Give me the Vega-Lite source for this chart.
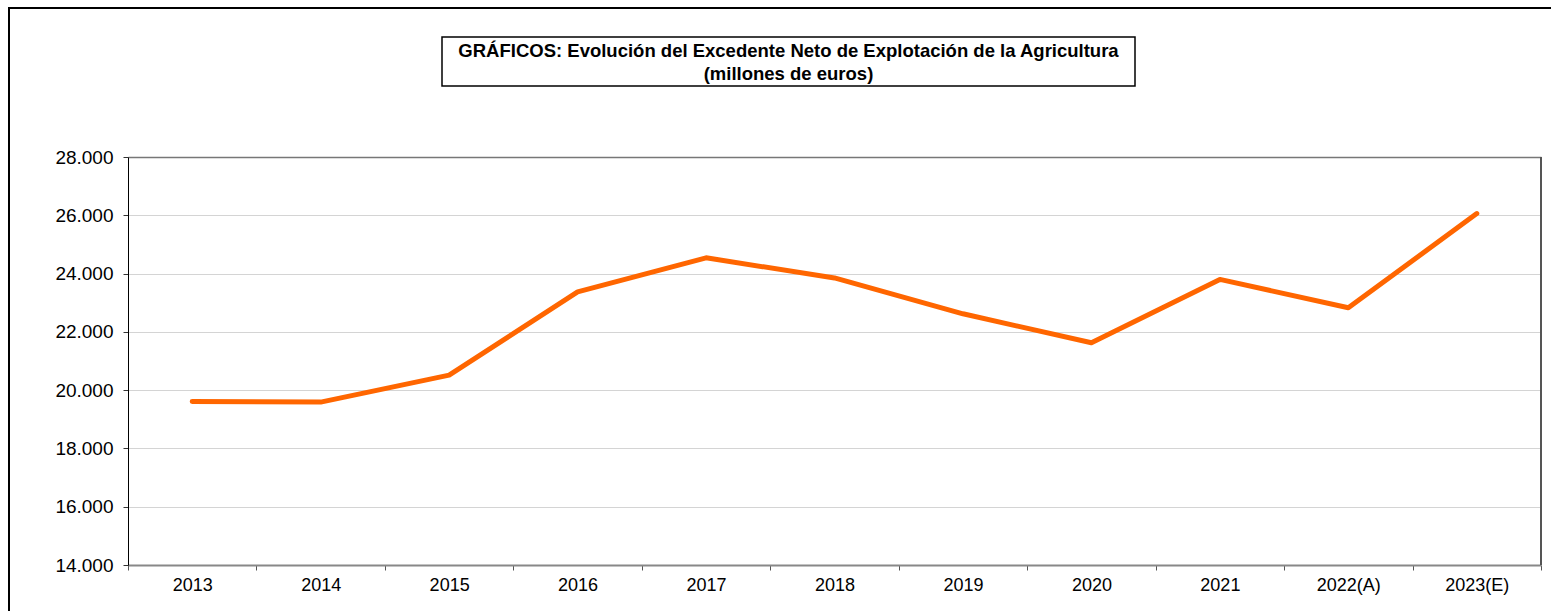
{
  "$schema": "https://vega.github.io/schema/vega-lite/v6.json",
  "autosize": "none",
  "padding": {"left": 9, "top": 8, "right": 0, "bottom": 0},
  "width": 1543,
  "height": 610,
  "background": "#ffffff",
  "config": {
    "view": {"stroke": "#000000", "strokeWidth": 2},
    "font": "Liberation Sans",
    "axis": {"labelFont": "Liberation Sans", "labelColor": "#000000"}
  },
  "resolve": {"scale": {"x": "independent", "y": "independent"}, "axis": {"x": "independent", "y": "independent"}},
  "layer": [
    {
      "data": {"values": [
        {"year": "2013", "value": 19610},
        {"year": "2014", "value": 19590},
        {"year": "2015", "value": 20515},
        {"year": "2016", "value": 23370},
        {"year": "2017", "value": 24540},
        {"year": "2018", "value": 23850},
        {"year": "2019", "value": 22620},
        {"year": "2020", "value": 21625},
        {"year": "2021", "value": 23800},
        {"year": "2022(A)", "value": 22825},
        {"year": "2023(E)", "value": 26060}
      ]},
      "layer": [
        {
          "mark": {"type": "line", "color": "#FF6600", "strokeWidth": 5, "strokeCap": "round", "strokeJoin": "round"},
          "encoding": {
            "x": {
              "field": "year", "type": "ordinal", "sort": null,
              "scale": {"type": "band", "range": [119, 1532], "paddingInner": 0, "paddingOuter": 0},
              "axis": {
                "orient": "bottom", "offset": -53, "title": null, "labelAngle": 0,
                "labelFontSize": 18, "labelPadding": 6,
                "domainColor": "#888888", "domainWidth": 2,
                "tickColor": "#555555", "tickSize": 5, "tickWidth": 1, "tickBand": "extent",
                "grid": false
              }
            },
            "y": {
              "field": "value", "type": "quantitative",
              "scale": {"domain": [14000, 28000], "range": [557, 149], "zero": false, "nice": false},
              "axis": {
                "orient": "left", "offset": -119, "title": null,
                "values": [14000, 16000, 18000, 20000, 22000, 24000, 26000, 28000],
                "labelExpr": "replace(format(datum.value, ',d'), ',', '.')",
                "labelFontSize": 19, "labelPadding": 10,
                "domainColor": "#000000", "domainWidth": 1,
                "tickColor": "#333333", "tickSize": 5, "tickWidth": 1,
                "grid": true,
                "gridColor": {"condition": {"test": "datum.value === 28000", "value": "#777777"}, "value": "#d4d4d4"},
                "gridWidth": {"condition": {"test": "datum.value === 28000", "value": 1.5}, "value": 1}
              }
            }
          }
        },
        {
          "mark": {"type": "rule", "color": "#555555", "strokeWidth": 2},
          "encoding": {
            "x": {"datum": "2023(E)", "type": "ordinal", "bandPosition": 1},
            "y": {"datum": 14000, "type": "quantitative"},
            "y2": {"datum": 28000}
          }
        }
      ]
    },
    {
      "data": {"values": [
        {"box": "t", "label": "GRÁFICOS: Evolución del Excedente Neto de Explotación  de la Agricultura\n(millones  de euros)"}
      ]},
      "encoding": {
        "x": {"field": "box", "type": "nominal", "scale": {"type": "band", "range": [433, 1126], "paddingInner": 0, "paddingOuter": 0}, "axis": null},
        "y": {"field": "box", "type": "nominal", "scale": {"type": "band", "range": [29, 78], "paddingInner": 0, "paddingOuter": 0}, "axis": null}
      },
      "layer": [
        {"mark": {"type": "rect", "fill": "#ffffff", "stroke": "#000000", "strokeWidth": 1.5}},
        {
          "mark": {"type": "text", "font": "Liberation Sans", "fontWeight": "bold", "fontSize": 18.5, "lineBreak": "\n", "lineHeight": 23, "dy": -11, "align": "center", "baseline": "middle", "color": "#000000"},
          "encoding": {"text": {"field": "label"}}
        }
      ]
    }
  ]
}
